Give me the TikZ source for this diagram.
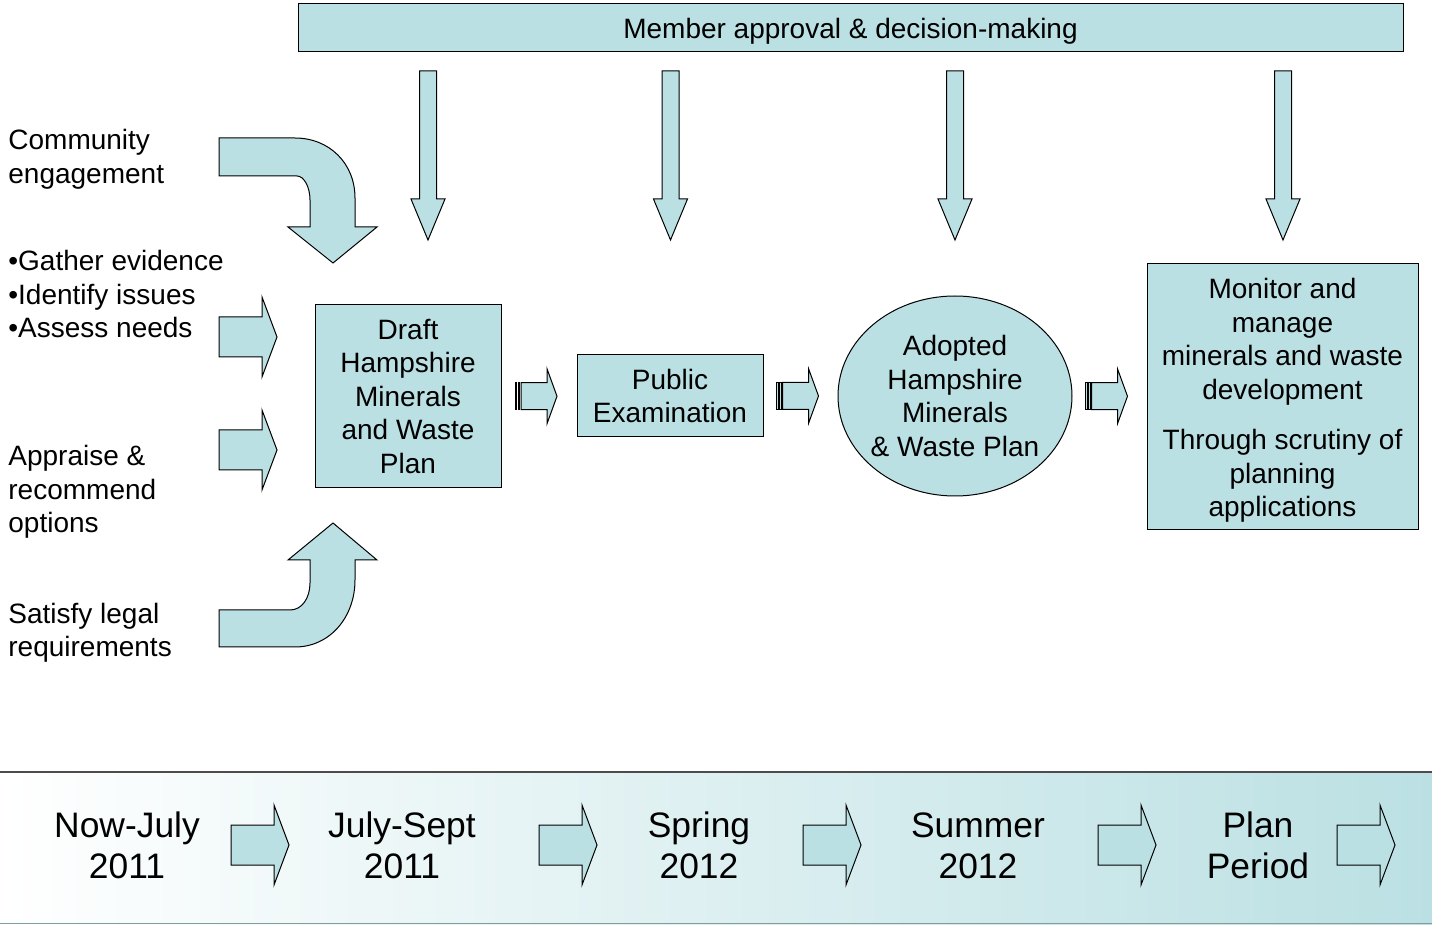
\documentclass[tikz,border=0pt]{standalone}
\usepackage{fontspec}
\setmainfont{Liberation Sans}
\usetikzlibrary{positioning,shapes.geometric,calc}
\definecolor{paleteal}{RGB}{187,224,227}

\tikzset{
  shp/.style={draw, fill=paleteal, line width=0.5pt, line join=miter},
  downarr/.pic={\draw[shp] (-8.5,0) -- (8.5,0) -- (8.5,128) -- (17,128) -- (0,169) -- (-17,128) -- (-8.5,128) -- cycle;},
  fatarr/.pic={\draw[shp] (0,-20) -- (43,-20) -- (43,-40) -- (58,0) -- (43,40) -- (43,20) -- (0,20) -- cycle;},
  stripearr/.pic={
    \draw[shp] (-21,-13.5) rectangle (-19.5,13.5);
    \draw[shp] (-18,-13.5) rectangle (-16.5,13.5);
    \draw[shp] (-15,-13.5) -- (11,-13.5) -- (11,-27.5) -- (21,0) -- (11,27.5) -- (11,13.5) -- (-15,13.5) -- cycle;}
}

\begin{document}
\begin{tikzpicture}[x=0.5pt, y=-0.5pt,
  box/.style={draw, fill=paleteal, line width=0.5pt, align=center, font=\fontsize{14}{16.75}\selectfont},
  side/.style={anchor=west, align=left, inner sep=0pt, font=\fontsize{14}{16.75}\selectfont},
  when/.style={align=center, inner sep=0pt, font=\fontsize{17.7}{20.6}\selectfont}]
\useasboundingbox (0,0) rectangle (1432,925);

% top bar and the stages
\node (member) [box, text depth=0pt, minimum width=552.5pt, minimum height=24pt] at (850.5,28) {Member approval \& decision-making};

\node (draft) [box, minimum width=93pt, minimum height=91.5pt] at (408,396.5) {Draft\\Hampshire\\Minerals\\and Waste\\Plan};
\node (pubex) [box, minimum width=93pt, minimum height=41pt] at (670,396) {Public\\Examination};
\node (adopted) [box, ellipse, minimum width=117pt, minimum height=100pt, inner sep=-6pt] at (955,396) {Adopted\\Hampshire\\Minerals\\\& Waste Plan};
\node (monitor) [box, minimum width=135.5pt, minimum height=132.5pt] at (1282.5,396.5) {\rule{0pt}{14pt}Monitor and\\manage\\minerals and waste\\development\\[8.5pt]Through scrutiny of\\planning\\applications};

\foreach \x in {428,670.5,955,1283}
  \pic at (\x,71) {downarr};

\pic at ($(draft.east)!0.5!(pubex.west)+(-3,0)$) {stripearr};
\pic at ($(pubex.east)!0.5!(adopted.west)+(-3,0)$) {stripearr};
\pic at ($(adopted.east)!0.5!(monitor.west)+(-3,0)$) {stripearr};

% inputs on the left
\node (community) [side] at (8,159.5) {Community\\engagement};
\node (evidence) [side] at (8,294) {•Gather evidence\\•Identify issues\\•Assess needs};
\node (appraise) [side] at (8,492) {Appraise \&\\recommend\\options};
\node (legal) [side] at (8,633) {Satisfy legal\\requirements};

\draw[shp] (219,138) -- (295,138) .. controls (329,138) and (355,163) .. (355,198) -- (355,227) -- (377,227) -- (333,263) -- (288,227) -- (310,227) -- (310,200) .. controls (310,187) and (304,176) .. (297,176) -- (219,176) -- cycle;
\pic at (219,337) {fatarr};
\pic at (219,450) {fatarr};
\draw[shp] (219,610) -- (290,610) .. controls (302,610) and (310,598) .. (310,583) -- (310,560) -- (288,560) -- (333,523) -- (377,560) -- (355,560) -- (355,580) .. controls (355,617) and (330,647) .. (295,647) -- (219,647) -- cycle;

% timeline band
\shade[left color=white, right color=paleteal] (0,771) rectangle (1432,925);
\draw[black!70, line width=1pt] (0,771.5) -- (1432,771.5);
\draw[paleteal!70!black, line width=0.8pt] (0,923.5) -- (1432,923.5);

\node (nowjuly) [when] at (127,845.5) {Now-July\\2011};
\node (julsep) [when] at (402,845.5) {July-Sept\\2011};
\node (spring) [when] at (699,845.5) {Spring\\2012};
\node (summer) [when] at (978,845.5) {Summer\\2012};
\node (planperiod) [when] at (1258,845.5) {Plan\\Period};

\foreach \x in {231,539,803,1098,1337}
  \pic at (\x,845) {fatarr};
\end{tikzpicture}
\end{document}
